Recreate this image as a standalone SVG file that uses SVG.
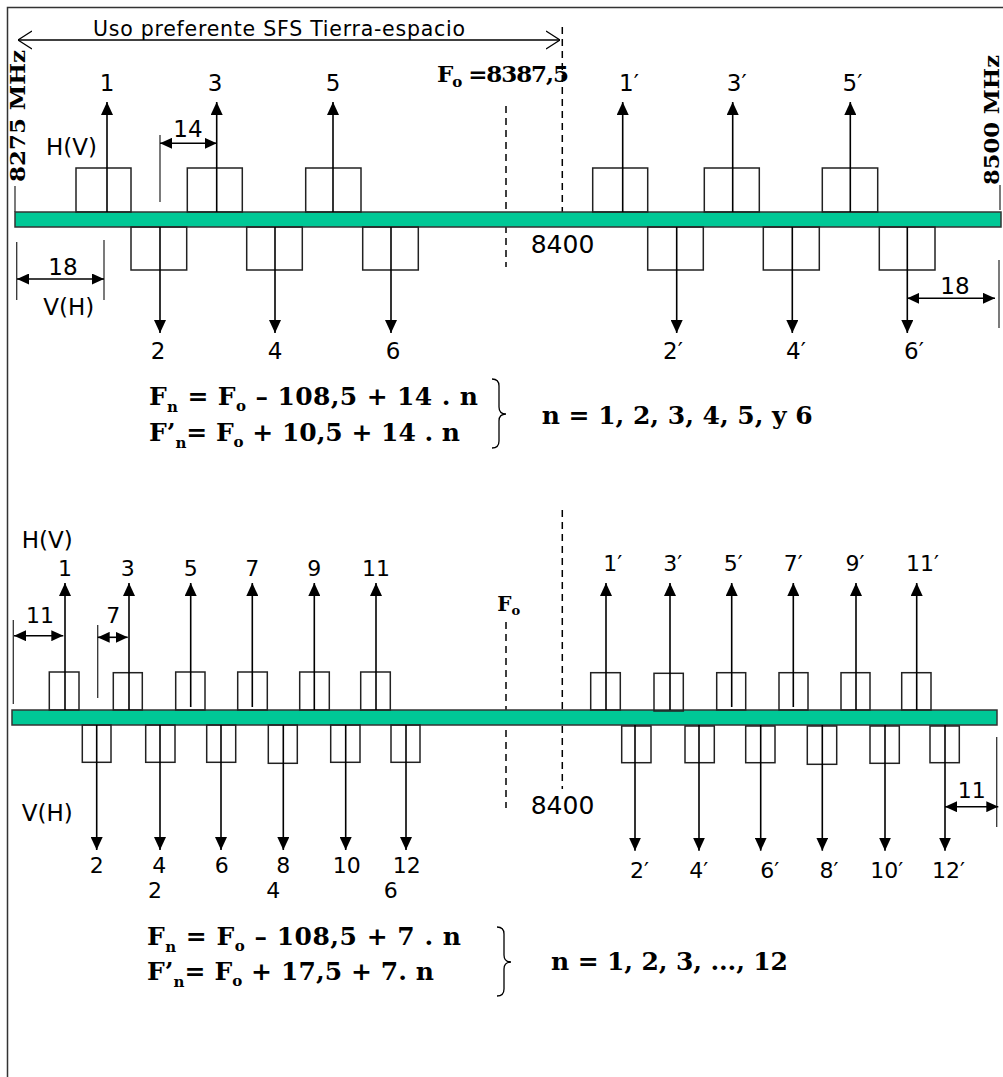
<svg xmlns="http://www.w3.org/2000/svg" width="1003" height="1077" viewBox="0 0 1003 1077">
<style>
.lbl{font-family:"DejaVu Sans",Verdana,sans-serif;font-size:23px;fill:#000}
.lb2{font-family:"DejaVu Sans",Verdana,sans-serif;font-size:22px;fill:#000}
.fb{font-family:"DejaVu Serif","Liberation Serif",serif;font-weight:bold;font-size:25px;fill:#000}
.sub{font-size:15px}
.box{fill:none;stroke:#222;stroke-width:1.5}
.bar{fill:#00C896;stroke:#333;stroke-width:1.5}
.arr{stroke:#000;stroke-width:1.6;fill:none;marker-end:url(#ah)}
.dim{stroke:#000;stroke-width:1.6;fill:none;marker-start:url(#dh);marker-end:url(#dh)}
.tick{stroke:#333;stroke-width:1.3}
.dash{stroke:#000;stroke-width:1.5;stroke-dasharray:7 5;fill:none}
.frame{stroke:#333;stroke-width:1.5;fill:none}
.brace{stroke:#000;stroke-width:1.3;fill:none}
</style>
<defs>
<marker id="ah" markerUnits="userSpaceOnUse" markerWidth="13" markerHeight="12" refX="13" refY="6" orient="auto"><path d="M0,0 L13,6 L0,12 z" fill="#000"/></marker>
<marker id="dh" markerUnits="userSpaceOnUse" markerWidth="12" markerHeight="11" refX="12" refY="5.5" orient="auto-start-reverse"><path d="M0,0 L12,5.5 L0,11 z" fill="#000"/></marker>
<marker id="oh" markerUnits="userSpaceOnUse" markerWidth="14" markerHeight="20" refX="14" refY="10" orient="auto-start-reverse"><path d="M0,1 L14,10 L0,19" fill="none" stroke="#000" stroke-width="1.3"/></marker>
</defs>
<rect width="1003" height="1077" fill="#fff"/>
<g id="frame"><path class="frame" d="M7.5,1077 L7.5,7.5 L1003,7.5"/></g>

<!-- ===== TOP SECTION ===== -->
<g id="band-top">
<text class="lbl" x="93" y="35.5" style="font-size:20.5px" textLength="372" lengthAdjust="spacing">Uso preferente SFS Tierra-espacio</text>
<line x1="18" y1="40" x2="560" y2="40" stroke="#000" stroke-width="1.3" marker-start="url(#oh)" marker-end="url(#oh)"/>
<text class="fb" transform="translate(25,182) rotate(-90)" style="font-size:21px" textLength="132" lengthAdjust="spacingAndGlyphs">8275 MHz</text>
<line class="tick" x1="15" y1="186" x2="15" y2="212"/>
<text class="fb" transform="translate(999,185) rotate(-90)" style="font-size:20px" textLength="130" lengthAdjust="spacingAndGlyphs">8500 MHz</text>
<line class="tick" x1="1000" y1="185" x2="1000" y2="210"/>
<text class="fb" x="437" y="81.7" textLength="132" lengthAdjust="spacing" style="font-size:23px">F<tspan class="sub" dy="5">o</tspan><tspan dy="-5"> =8387,5</tspan></text>
<line class="dash" x1="506" y1="106" x2="506" y2="267"/>
<line class="dash" x1="562.3" y1="27" x2="562.3" y2="226"/>
<text class="lbl" x="530.7" y="253" style="font-size:25px">8400</text>
<text class="lbl" x="46" y="155">H(V)</text>
<text class="lbl" x="43.3" y="315">V(H)</text>
</g>
<g id="bar-top"><rect class="bar" x="15" y="212" width="986" height="15"/></g>

<g id="t-ch1"><rect class="box" x="76" y="168" width="55" height="44"/><line class="arr" x1="107" y1="212" x2="107" y2="102"/><text class="lbl" x="107" y="91" text-anchor="middle">1</text></g>
<g id="t-ch3"><rect class="box" x="187.3" y="168" width="55" height="44"/><line class="arr" x1="216.7" y1="212" x2="216.7" y2="102"/><text class="lbl" x="215" y="91" text-anchor="middle">3</text></g>
<g id="t-ch5"><rect class="box" x="305.7" y="168" width="55.3" height="44"/><line class="arr" x1="333" y1="212" x2="333" y2="102"/><text class="lbl" x="333" y="91" text-anchor="middle">5</text></g>
<g id="t-ch1p"><rect class="box" x="592.7" y="168" width="55" height="44"/><line class="arr" x1="622.7" y1="212" x2="622.7" y2="102"/><text class="lbl" x="629" y="91" text-anchor="middle">1′</text></g>
<g id="t-ch3p"><rect class="box" x="704.3" y="168" width="55" height="44"/><line class="arr" x1="732.7" y1="212" x2="732.7" y2="102"/><text class="lbl" x="736.7" y="91" text-anchor="middle">3′</text></g>
<g id="t-ch5p"><rect class="box" x="822.3" y="168" width="55.4" height="44"/><line class="arr" x1="850.3" y1="212" x2="850.3" y2="102"/><text class="lbl" x="852.5" y="91" text-anchor="middle">5′</text></g>

<g id="t-ch2"><rect class="box" x="131" y="227" width="55.7" height="43"/><line class="arr" x1="160" y1="227" x2="160" y2="333"/><text class="lbl" x="158" y="359" text-anchor="middle">2</text></g>
<g id="t-ch4"><rect class="box" x="246.7" y="227" width="55.6" height="43"/><line class="arr" x1="275" y1="227" x2="275" y2="333"/><text class="lbl" x="275" y="359" text-anchor="middle">4</text></g>
<g id="t-ch6"><rect class="box" x="362.7" y="227" width="55.6" height="43"/><line class="arr" x1="391" y1="227" x2="391" y2="333"/><text class="lbl" x="393" y="359" text-anchor="middle">6</text></g>
<g id="t-ch2p"><rect class="box" x="647.7" y="227" width="55.6" height="43"/><line class="arr" x1="676.7" y1="227" x2="676.7" y2="333"/><text class="lbl" x="673" y="359" text-anchor="middle">2′</text></g>
<g id="t-ch4p"><rect class="box" x="763.3" y="227" width="56" height="43"/><line class="arr" x1="792.3" y1="227" x2="792.3" y2="333"/><text class="lbl" x="796" y="359" text-anchor="middle">4′</text></g>
<g id="t-ch6p"><rect class="box" x="879.3" y="227" width="55.7" height="43"/><line class="arr" x1="907.3" y1="227" x2="907.3" y2="333"/><text class="lbl" x="914" y="359" text-anchor="middle">6′</text></g>

<g id="t-dims">
<line class="tick" x1="160" y1="135" x2="160" y2="202"/>
<line class="dim" x1="160" y1="143.3" x2="216.7" y2="143.3"/>
<text class="lbl" x="188" y="136.7" text-anchor="middle">14</text>
<line class="tick" x1="16.7" y1="242" x2="16.7" y2="300"/>
<line class="tick" x1="104" y1="240" x2="104" y2="300"/>
<line class="dim" x1="17" y1="279" x2="104" y2="279"/>
<text class="lbl" x="63" y="275" text-anchor="middle">18</text>
<line class="tick" x1="999" y1="260" x2="999" y2="328"/>
<line class="dim" x1="907.3" y1="298.3" x2="995" y2="298.3"/>
<text class="lbl" x="955" y="294" text-anchor="middle">18</text>
</g>

<g id="t-formulas">
<text class="fb" x="149" y="405" textLength="329" lengthAdjust="spacing">F<tspan class="sub" dy="7">n</tspan><tspan dy="-7"> = F</tspan><tspan class="sub" dy="6">o</tspan><tspan dy="-6"> – 108,5 + 14 . n</tspan></text>
<text class="fb" x="149" y="440.7" textLength="311" lengthAdjust="spacing">F’<tspan class="sub" dy="7">n</tspan><tspan dy="-7">= F</tspan><tspan class="sub" dy="6">o</tspan><tspan dy="-6"> + 10,5 + 14 . n</tspan></text>
<path class="brace" d="M492,379 Q499,379 499,386 L499,407 Q499,414 506,414 Q499,414 499,421 L499,441 Q499,448 492,448"/>
<text class="fb" x="541.7" y="424" textLength="271" lengthAdjust="spacing">n = 1, 2, 3, 4, 5, y 6</text>
</g>

<!-- ===== BOTTOM SECTION ===== -->
<g id="band-bottom">
<text class="lbl" x="21.7" y="548">H(V)</text>
<text class="lbl" x="21.7" y="821">V(H)</text>
<text class="fb" x="497.3" y="611" style="font-size:20px">F<tspan class="sub" style="font-size:13px" dy="4">o</tspan></text>
<line class="dash" x1="506" y1="622" x2="506" y2="808"/>
<line class="dash" x1="562.3" y1="510" x2="562.3" y2="789"/>
<text class="lbl" x="530.7" y="814" style="font-size:25px">8400</text>
</g>
<g id="bar-bottom"><rect class="bar" x="12" y="710" width="985" height="15"/></g>

<g id="b-ch1"><rect class="box" x="49.3" y="672" width="29.7" height="38"/><line class="arr" x1="65" y1="710" x2="65" y2="583"/><text class="lb2" x="65" y="576" text-anchor="middle">1</text></g>
<g id="b-ch3"><rect class="box" x="113.3" y="672.7" width="29" height="37.3"/><line class="arr" x1="129" y1="710" x2="129" y2="583"/><text class="lb2" x="127.7" y="576" text-anchor="middle">3</text></g>
<g id="b-ch5"><rect class="box" x="175.7" y="672" width="29.3" height="38"/><line class="arr" x1="190.7" y1="707" x2="190.7" y2="583"/><text class="lb2" x="190.7" y="576" text-anchor="middle">5</text></g>
<g id="b-ch7"><rect class="box" x="237.7" y="672" width="29.6" height="38"/><line class="arr" x1="252.3" y1="707" x2="252.3" y2="583"/><text class="lb2" x="252.3" y="576" text-anchor="middle">7</text></g>
<g id="b-ch9"><rect class="box" x="299.7" y="672" width="29.6" height="38"/><line class="arr" x1="314.3" y1="710" x2="314.3" y2="583"/><text class="lb2" x="314.3" y="576" text-anchor="middle">9</text></g>
<g id="b-ch11"><rect class="box" x="360.7" y="672" width="29.6" height="38"/><line class="arr" x1="376" y1="710" x2="376" y2="583"/><text class="lb2" x="376" y="576" text-anchor="middle">11</text></g>
<g id="b-ch1p"><rect class="box" x="590.7" y="672.7" width="29.6" height="37.3"/><line class="arr" x1="606" y1="710" x2="606" y2="583"/><text class="lb2" x="612.8" y="570.7" text-anchor="middle">1′</text></g>
<g id="b-ch3p"><rect class="box" x="654" y="673.3" width="29.3" height="37.7"/><line class="arr" x1="670" y1="710" x2="670" y2="583"/><text class="lb2" x="672.8" y="570.7" text-anchor="middle">3′</text></g>
<g id="b-ch5p"><rect class="box" x="716.7" y="672.7" width="29" height="37.3"/><line class="arr" x1="731.7" y1="707" x2="731.7" y2="583"/><text class="lb2" x="733.3" y="570.7" text-anchor="middle">5′</text></g>
<g id="b-ch7p"><rect class="box" x="779" y="672.7" width="29" height="37.3"/><line class="arr" x1="793.3" y1="707" x2="793.3" y2="583"/><text class="lb2" x="793.3" y="570.7" text-anchor="middle">7′</text></g>
<g id="b-ch9p"><rect class="box" x="841" y="672.7" width="29" height="37.3"/><line class="arr" x1="856" y1="710" x2="856" y2="583"/><text class="lb2" x="855" y="570.7" text-anchor="middle">9′</text></g>
<g id="b-ch11p"><rect class="box" x="901.7" y="672.7" width="29.3" height="37.3"/><line class="arr" x1="916.7" y1="710" x2="916.7" y2="583"/><text class="lb2" x="922.5" y="570.7" text-anchor="middle">11′</text></g>

<g id="b-ch2"><rect class="box" x="82.3" y="725" width="28.7" height="37.3"/><line class="arr" x1="96.7" y1="725" x2="96.7" y2="850"/><text class="lb2" x="96.7" y="873.3" text-anchor="middle">2</text></g>
<g id="b-ch4"><rect class="box" x="145.7" y="725" width="29.3" height="37.3"/><line class="arr" x1="160" y1="725" x2="160" y2="850"/><text class="lb2" x="159.3" y="873.3" text-anchor="middle">4</text></g>
<g id="b-ch6"><rect class="box" x="206.7" y="725" width="29" height="37.3"/><line class="arr" x1="221" y1="725" x2="221" y2="850"/><text class="lb2" x="221.7" y="873.3" text-anchor="middle">6</text></g>
<g id="b-ch8"><rect class="box" x="268.3" y="725" width="29" height="38.3"/><line class="arr" x1="283.3" y1="725" x2="283.3" y2="850"/><text class="lb2" x="283.3" y="873.3" text-anchor="middle">8</text></g>
<g id="b-ch10"><rect class="box" x="330.7" y="725" width="29.3" height="37.3"/><line class="arr" x1="345.7" y1="725" x2="345.7" y2="850"/><text class="lb2" x="346.7" y="873.3" text-anchor="middle">10</text></g>
<g id="b-ch12"><rect class="box" x="391" y="725" width="29" height="37.3"/><line class="arr" x1="406" y1="725" x2="406" y2="850"/><text class="lb2" x="406.7" y="873.3" text-anchor="middle">12</text></g>
<g id="b-ch2p"><rect class="box" x="621.7" y="726" width="29.3" height="36.7"/><line class="arr" x1="635" y1="725" x2="635" y2="850.7"/><text class="lb2" x="639.5" y="877.7" text-anchor="middle">2′</text></g>
<g id="b-ch4p"><rect class="box" x="685" y="726" width="29.3" height="36.7"/><line class="arr" x1="699" y1="725" x2="699" y2="850.7"/><text class="lb2" x="698.7" y="877.7" text-anchor="middle">4′</text></g>
<g id="b-ch6p"><rect class="box" x="745.7" y="726" width="29.3" height="36.7"/><line class="arr" x1="760.7" y1="725" x2="760.7" y2="850.7"/><text class="lb2" x="769.7" y="877.7" text-anchor="middle">6′</text></g>
<g id="b-ch8p"><rect class="box" x="807.3" y="726" width="29.4" height="38.3"/><line class="arr" x1="822.3" y1="725" x2="822.3" y2="850.7"/><text class="lb2" x="829" y="877.7" text-anchor="middle">8′</text></g>
<g id="b-ch10p"><rect class="box" x="870" y="726" width="29.3" height="37.3"/><line class="arr" x1="885" y1="725" x2="885" y2="850.7"/><text class="lb2" x="886.7" y="877.7" text-anchor="middle">10′</text></g>
<g id="b-ch12p"><rect class="box" x="930" y="726" width="29.3" height="36.7"/><line class="arr" x1="945" y1="725" x2="945" y2="850.7"/><text class="lb2" x="948.5" y="877.7" text-anchor="middle">12′</text></g>

<g id="b-extra-labels">
<text class="lb2" x="155" y="898" text-anchor="middle">2</text>
<text class="lb2" x="273.3" y="898" text-anchor="middle">4</text>
<text class="lb2" x="390.7" y="898" text-anchor="middle">6</text>
</g>

<g id="b-dims">
<line class="tick" x1="13.3" y1="620" x2="13.3" y2="704"/>
<line class="dim" x1="14" y1="635.7" x2="63.3" y2="635.7"/>
<text class="lb2" x="40" y="623.3" text-anchor="middle">11</text>
<line class="tick" x1="97.7" y1="625" x2="97.7" y2="698"/>
<line class="dim" x1="97.7" y1="637.3" x2="127.7" y2="637.3"/>
<text class="lb2" x="113.3" y="622.7" text-anchor="middle">7</text>
<line class="tick" x1="996.7" y1="737" x2="996.7" y2="827"/>
<line class="dim" x1="945" y1="806.7" x2="998.3" y2="806.7"/>
<text class="lb2" x="971.7" y="798.3" text-anchor="middle">11</text>
</g>

<g id="b-formulas">
<text class="fb" x="147" y="945" textLength="314" lengthAdjust="spacing">F<tspan class="sub" dy="7">n</tspan><tspan dy="-7"> = F</tspan><tspan class="sub" dy="6">o</tspan><tspan dy="-6"> – 108,5 + 7 . n</tspan></text>
<text class="fb" x="147" y="980" textLength="287" lengthAdjust="spacing">F’<tspan class="sub" dy="7">n</tspan><tspan dy="-7">= F</tspan><tspan class="sub" dy="6">o</tspan><tspan dy="-6"> + 17,5 + 7. n</tspan></text>
<path class="brace" d="M497,927 Q504,927 504,934 L504,955 Q504,962 511,962 Q504,962 504,969 L504,989 Q504,996 497,996"/>
<text class="fb" x="551" y="970" textLength="237" lengthAdjust="spacing">n = 1, 2, 3, ..., 12</text>
</g>
</svg>
